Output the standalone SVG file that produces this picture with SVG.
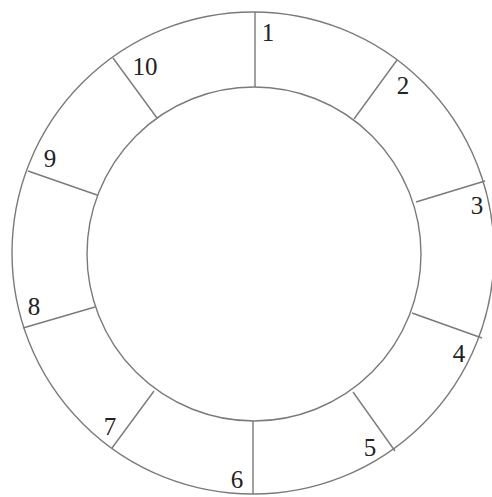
<svg xmlns="http://www.w3.org/2000/svg" width="492" height="497" viewBox="0 0 492 497">
<style>
.ring{fill:none;stroke:#7a7a7a;stroke-width:1.4}
.div{stroke:#7a7a7a;stroke-width:1.4}
.lbl{font-family:"Liberation Serif","DejaVu Serif",serif;font-size:25px;fill:#222;text-anchor:middle}
</style>
<rect width="492" height="497" fill="#fff"/>
<g id="rings">
<circle class="ring" cx="253" cy="253" r="241"/>
<circle class="ring" cx="254" cy="254" r="167"/>
</g>
<g id="connectors">
<line class="div" x1="255" y1="12" x2="255" y2="87"/>
<line class="div" x1="354" y1="119" x2="397" y2="60"/>
<line class="div" x1="416" y1="202" x2="485" y2="181"/>
<line class="div" x1="412" y1="313" x2="482" y2="338"/>
<line class="div" x1="353" y1="392" x2="395" y2="451"/>
<line class="div" x1="253" y1="421" x2="253" y2="494"/>
<line class="div" x1="154" y1="391" x2="112" y2="448"/>
<line class="div" x1="95" y1="307" x2="23" y2="328"/>
<line class="div" x1="97" y1="195" x2="28" y2="171"/>
<line class="div" x1="157" y1="118" x2="113" y2="58"/>
</g>
<g id="seg1"><text class="lbl" x="268" y="41">1</text></g>
<g id="seg2"><text class="lbl" x="403" y="94">2</text></g>
<g id="seg3"><text class="lbl" x="477" y="214">3</text></g>
<g id="seg4"><text class="lbl" x="459" y="362">4</text></g>
<g id="seg5"><text class="lbl" x="370" y="456">5</text></g>
<g id="seg6"><text class="lbl" x="237" y="488">6</text></g>
<g id="seg7"><text class="lbl" x="110" y="435">7</text></g>
<g id="seg8"><text class="lbl" x="34" y="315">8</text></g>
<g id="seg9"><text class="lbl" x="50" y="167">9</text></g>
<g id="seg10"><text class="lbl" x="145" y="75">10</text></g>
</svg>
